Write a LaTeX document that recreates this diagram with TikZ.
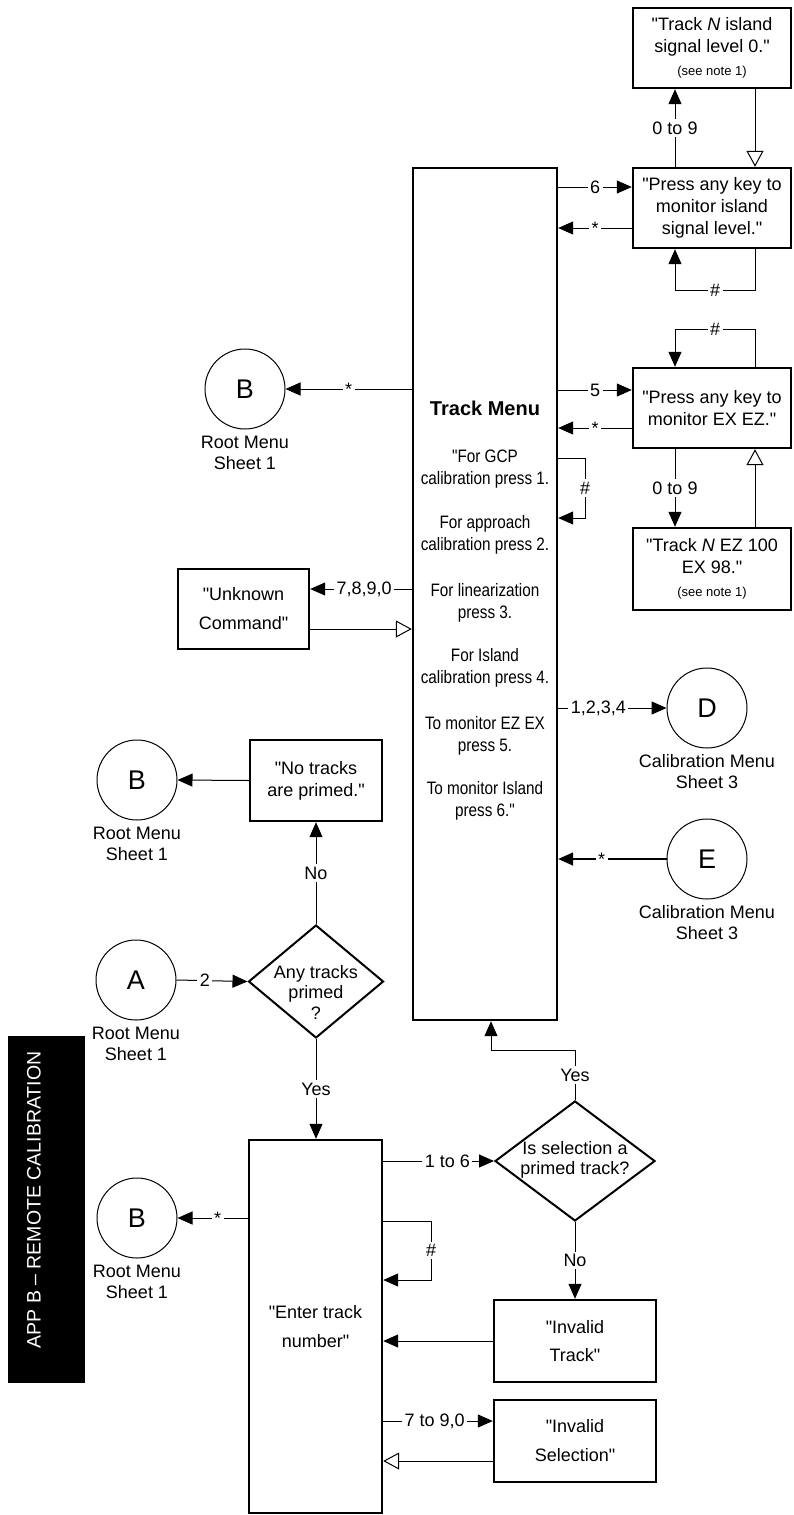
\documentclass[tikz,border=0pt]{standalone}
\usepackage{fontspec}
\setmainfont{Liberation Sans}[Ligatures=TeXOff]
\newfontfamily\narrowfont{Liberation Sans}[Ligatures=TeXOff, FakeStretch=0.85]
\usetikzlibrary{arrows.meta,shapes.geometric}
\newcommand\fsz[2]{\fontsize{#1pt}{#2pt}\selectfont}
\tikzset{
  box/.style={draw, line width=2.4pt, inner sep=0pt, align=center, font=\fsz{18}{22}},
  circ/.style={draw, circle, line width=1pt, minimum size=80pt, inner sep=0pt, font=\fsz{27}{30}},
  diam/.style={draw, diamond, line width=2pt, inner sep=0pt},
  dtext/.style={align=center, inner sep=0pt, font=\fsz{18}{20.5}},
  lab/.style={fill=white, inner sep=2.5pt, font=\fsz{18}{22}},
  sub/.style={align=center, font=\fsz{18}{21}, anchor=north, inner sep=0pt, yshift=-6pt},
  conn/.style={line width=1pt},
  arr/.style={conn, -{Triangle[length=15pt,width=13pt]}},
  harr/.style={conn, -{Triangle[open,length=16pt,width=17pt,fill=white]}},
  menu/.style={align=center, font=\narrowfont\fsz{18}{22}, inner sep=0pt}
}
\begin{document}
\begin{tikzpicture}[x=1pt,y=-1pt]
\useasboundingbox (0,0) rectangle (793,1515);

% boxes on the right
\node[box, minimum width=158pt, minimum height=80pt] (b1) at (712,48)
  {"Track \textit{N} island\\signal level 0."\\[1pt]{\fsz{13}{15}(see note 1)}};
\node[box, minimum width=158pt, minimum height=80pt] (b2) at (712,208)
  {"Press any key to\\monitor island\\signal level."};
\node[box, minimum width=158pt, minimum height=80pt] (b3) at (712,408)
  {"Press any key to\\monitor EX EZ."};
\node[box, minimum width=158pt, minimum height=82pt] (b4) at (712,569)
  {"Track \textit{N} EZ 100\\EX 98."\\[1pt]{\fsz{13}{15}(see note 1)}};

% track menu
\node[box, minimum width=144pt, minimum height=852pt] (tm) at (485,594) {};
\node[font=\bfseries\fsz{20}{24}, inner sep=0pt] (tmt) at (485,408) {Track Menu};
\node[menu] (tmA) at (485,469) {"For GCP\\calibration press 1.};
\node[menu] (tmB) at (485,534.5) {For approach\\calibration press 2.};
\node[menu] (tmC) at (485,602.5) {For linearization\\press 3.};
\node[menu] (tmD) at (485,668) {For Island\\calibration press 4.};
\node[menu] (tmE) at (485,736) {To monitor EZ EX\\press 5.};
\node[menu] (tmF) at (485,801) {To monitor Island\\press 6."};

% left boxes
\node[box, minimum width=131pt, minimum height=80pt] (uc) at (243.5,609) {"Unknown\\[7pt]Command"};
\node[box, minimum width=132pt, minimum height=81pt] (np) at (316,780.5) {"No tracks\\are primed."};
\node[box, minimum width=133pt, minimum height=373pt] (et) at (315.5,1326.5) {"Enter track\\[7pt]number"};
\node[box, minimum width=162pt, minimum height=82pt] (it) at (575,1341) {"Invalid\\[6pt]Track"};
\node[box, minimum width=162pt, minimum height=82pt] (is) at (575,1441) {"Invalid\\[7pt]Selection"};

% diamonds
\node[diam, minimum width=135pt, minimum height=113pt] (d1) at (316,981.5) {};
\node[dtext] (d1t) at (316,992) {Any tracks\\primed\\?};
\node[diam, minimum width=160pt, minimum height=120pt] (d2) at (575,1161) {};
\node[dtext] (d2t) at (575,1160) {Is selection a\\primed track?};

% circles
\node[circ] (B1) at (245,389) {B};
\node[sub] (B1l) at (B1.south) {Root Menu\\Sheet 1};
\node[circ] (B2) at (137,780) {B};
\node[sub] (B2l) at (B2.south) {Root Menu\\Sheet 1};
\node[circ] (A) at (136,980) {A};
\node[sub] (Al) at (A.south) {Root Menu\\Sheet 1};
\node[circ] (B3) at (137,1218) {B};
\node[sub] (B3l) at (B3.south) {Root Menu\\Sheet 1};
\node[circ] (D) at (707,708) {D};
\node[sub] (Dl) at (D.south) {Calibration Menu\\Sheet 3};
\node[circ] (E) at (707,859) {E};
\node[sub] (El) at (E.south) {Calibration Menu\\Sheet 3};

% side bar
\fill[black] (8,1036) rectangle (85,1383);
\node[rotate=90, text=white, font=\fsz{19.5}{22}, inner sep=0pt] (side) at (34,1200) {APP B \textendash{} REMOTE CALIBRATION};

% connectors, right column
\draw[arr] (675,0 |- b2.north) -- node[lab]{0 to 9} (675,0 |- b1.south);
\draw[harr] (755,0 |- b1.south) -- (755,0 |- b2.north);
\draw[arr] (755,0 |- b2.south) -- (755,290) -- node[lab]{\#} (675,290) -- (675,0 |- b2.south);
\draw[arr] (tm.east |- 0,187) -- node[lab]{6} (b2.west |- 0,187);
\draw[arr] (b2.west |- 0,228) -- node[lab]{*} (tm.east |- 0,228);

\draw[arr] (755,0 |- b3.north) -- (755,329) -- node[lab]{\#} (675,329) -- (675,0 |- b3.north);
\draw[arr] (tm.east |- 0,390) -- node[lab]{5} (b3.west |- 0,390);
\draw[arr] (b3.west |- 0,428) -- node[lab]{*} (tm.east |- 0,428);
\draw[arr] (675,0 |- b3.south) -- node[lab]{0 to 9} (675,0 |- b4.north);
\draw[harr] (755,0 |- b4.north) -- (755,0 |- b3.south);

\draw[arr] (tm.east |- 0,458) -- (585,458) -- node[lab]{\#} (585,518) -- (tm.east |- 0,518);
\draw[arr] (tm.east |- D.west) -- node[lab, pos=0.37]{1,2,3,4} (D.west);
\draw[arr, line width=1.5pt] (E.west) -- node[lab, pos=0.6]{*} (tm.east |- E.west);

% connectors, left of track menu
\draw[arr] (tm.west |- B1.east) -- node[lab]{*} (B1.east);
\draw[arr] (tm.west |- 0,589) -- node[lab, pos=0.47]{7,8,9,0} (uc.east |- 0,589);
\draw[harr] (uc.east |- 0,629) -- (tm.west |- 0,629);

% lower part
\draw[arr] (np.west) -- (B2.east);
\draw[arr] (d1.north) -- node[lab]{No} (np.south);
\draw[arr] (A.east) -- node[lab, pos=0.4]{2} (d1.west);
\draw[arr] (d1.south) -- node[lab]{Yes} (et.north -| d1.south);
\draw[arr] (et.east |- d2.west) -- node[lab, pos=0.58]{1 to 6} (d2.west);
\draw[arr] (d2.north) -- node[lab]{Yes} (575,1050) -- (491,1050) -- (491,0 |- tm.south);
\draw[arr] (d2.south) -- node[lab]{No} (it.north);
\draw[arr] (it.west) -- (et.east |- it.west);
\draw[arr] (et.east |- 0,1221) -- (431,1221) -- node[lab]{\#} (431,1280) -- (et.east |- 0,1280);
\draw[arr] (et.east |- 0,1421) -- node[lab, pos=0.47]{7 to 9,0} (is.west |- 0,1421);
\draw[harr] (is.west |- 0,1461) -- (et.east |- 0,1461);
\draw[arr] (et.west |- B3.east) -- node[lab, pos=0.43]{*} (B3.east);
\end{tikzpicture}
\end{document}
